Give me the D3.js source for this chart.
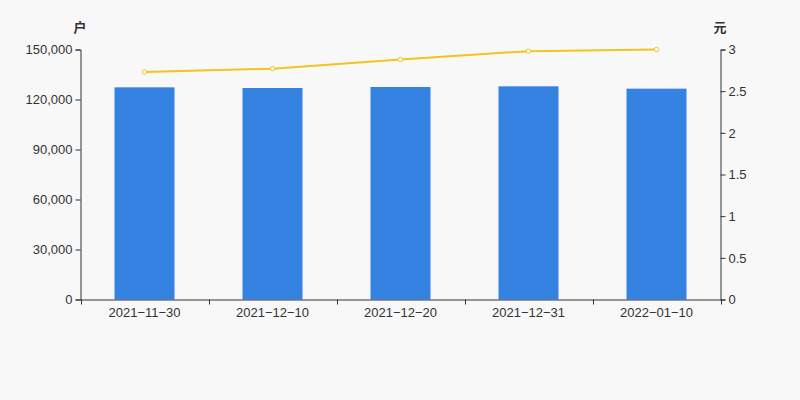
<!DOCTYPE html>
<html><head><meta charset="utf-8">
<script src="https://cdn.jsdelivr.net/npm/d3@7/dist/d3.min.js"></script>
<style>body{margin:0;background:#f8f8f8;}svg{display:block;font-family:"Liberation Sans",Arial,sans-serif;}</style>
</head><body><svg id="c" width="800" height="400"></svg>
<script>
const categories = ["2021-11-30","2021-12-10","2021-12-20","2021-12-31","2022-01-10"];
const households = [127300, 126900, 127500, 127900, 126500];
const perCapita = [2.73, 2.77, 2.88, 2.98, 3.00];
const leftTicks = [0, 30000, 60000, 90000, 120000, 150000];
const rightTicks = [0, 0.5, 1, 1.5, 2, 2.5, 3];

const svg = d3.select("#c");
svg.append("rect").attr("width",800).attr("height",400).attr("fill","#f8f8f8");
const L=80.5, R=720.5, T=49.5, B=299.5;
const xb = d3.scaleBand().domain(categories).range([L,R]);
const yl = d3.scaleLinear().domain([0,150000]).range([B,T]);
const yr = d3.scaleLinear().domain([0,3]).range([B,T]);
const fmt = d3.format(",");
const tc = "#333";

svg.selectAll(".bar").data(households).join("rect")
  .attr("x",(d,i)=>xb(categories[i])+xb.bandwidth()/2-30)
  .attr("width",60)
  .attr("y",d=>yl(d)).attr("height",d=>B-yl(d))
  .attr("fill","#3482e2");

const gl = svg.append("g").attr("transform",`translate(${L},0)`)
  .call(d3.axisLeft(yl).tickValues(leftTicks).tickFormat(fmt).tickSize(5).tickPadding(3));
const gr = svg.append("g").attr("transform",`translate(${R},0)`)
  .call(d3.axisRight(yr).tickValues(rightTicks).tickFormat(d=>d).tickSize(5).tickPadding(3));
const gx = svg.append("g").attr("transform",`translate(0,${B})`)
  .call(d3.axisBottom(xb).tickSize(0).tickPadding(8).tickFormat(d=>d.replace(/-/g,"\u2212")));
[gl,gr,gx].forEach(g=>{
  g.select(".domain").attr("stroke",tc);
  g.selectAll(".tick line").attr("stroke",tc);
  g.selectAll("text").attr("fill",tc).style("font-size","13px").style("font-family",'"Liberation Sans",Arial,sans-serif');
});
const bounds = categories.map(c=>xb(c)).concat([R]);
svg.selectAll(".bt").data(bounds).join("line")
  .attr("x1",d=>Math.round(d)+0.5).attr("x2",d=>Math.round(d)+0.5)
  .attr("y1",B).attr("y2",B+5).attr("stroke",tc);

const line = d3.line().x((d,i)=>xb(categories[i])+xb.bandwidth()/2).y(d=>yr(d));
svg.append("path").datum(perCapita).attr("d",line)
  .attr("fill","none").attr("stroke","#f5c31c").attr("stroke-width",2);
svg.selectAll(".pt").data(perCapita).join("circle")
  .attr("cx",(d,i)=>xb(categories[i])+xb.bandwidth()/2).attr("cy",d=>yr(d))
  .attr("r",2.2).attr("fill","#fff").attr("stroke","#f5c31c").attr("stroke-width",1);

svg.append("text").attr("x",80).attr("y",32).attr("text-anchor","middle")
  .attr("fill",tc).style("font-size","13px").style("font-weight","bold").style("font-family",'"Noto Sans CJK SC",sans-serif').text("户");
svg.append("text").attr("x",720).attr("y",32).attr("text-anchor","middle")
  .attr("fill",tc).style("font-size","13px").style("font-weight","bold").style("font-family",'"Noto Sans CJK SC",sans-serif').text("元");
</script></body></html>
